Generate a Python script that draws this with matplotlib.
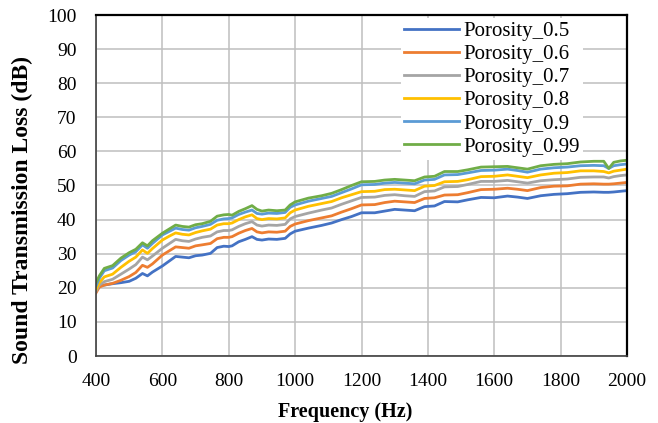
import numpy as np
import matplotlib
matplotlib.use("Agg")
import matplotlib.pyplot as plt


# -----------------------------
# Data
# -----------------------------
FREQ = [
    400, 410, 425, 450, 475, 500, 520, 540, 555, 570,
    600, 620, 640, 660, 680, 700, 720, 745, 765, 785,
    800, 810, 830, 850, 870, 885, 900, 920, 945, 970,
    985, 1000, 1040, 1080, 1110, 1140, 1170, 1200, 1240, 1270,
    1300, 1330, 1360, 1390, 1420, 1450, 1490, 1520, 1560, 1600,
    1640, 1670, 1700, 1740, 1780, 1820, 1860, 1900, 1930, 1945,
    1960, 1980, 2000,
]

STL_05 = [
    19.8, 20.6, 20.8, 21.2, 21.5, 21.9, 22.8, 24.2, 23.5, 24.6,
    26.4, 27.8, 29.2, 29.0, 28.8, 29.4, 29.6, 30.1, 31.8, 32.2,
    32.1, 32.3, 33.5, 34.2, 35.0, 34.2, 34.0, 34.3, 34.2, 34.5,
    35.8, 36.6, 37.5, 38.3, 39.0, 40.0, 40.9, 42.0, 42.0, 42.5,
    43.0, 42.8, 42.6, 43.8, 44.0, 45.3, 45.2, 45.8, 46.5, 46.4,
    46.9, 46.6, 46.2, 47.0, 47.4, 47.6, 48.0, 48.1, 48.0, 48.0,
    48.1, 48.3, 48.5,
]

STL_06 = [
    18.5, 20.2, 20.8, 21.3, 22.2, 23.3, 24.5, 26.6, 26.0, 27.0,
    29.6, 30.8, 32.0, 31.8, 31.6, 32.3, 32.6, 33.0, 34.4, 34.8,
    34.8, 35.0, 36.0, 36.8, 37.4, 36.4, 36.1, 36.4, 36.3, 36.6,
    38.0, 38.7, 39.7, 40.5, 41.1, 42.2, 43.2, 44.3, 44.4, 45.0,
    45.4, 45.2, 45.0, 46.2, 46.4, 47.2, 47.3, 47.9, 48.8, 48.9,
    49.2, 48.9, 48.5, 49.4, 49.8, 49.9, 50.4, 50.5, 50.4, 50.4,
    50.5, 50.7, 50.9,
]

STL_07 = [
    19.0, 20.8, 21.8, 22.5, 24.0, 25.5, 26.8, 29.0, 28.2, 29.3,
    31.6, 32.9, 34.2, 33.8, 33.6, 34.3, 34.8, 35.2, 36.4, 36.8,
    36.8, 37.0, 38.0, 38.8, 39.4, 38.4, 38.1, 38.4, 38.3, 38.6,
    40.2, 40.9, 41.9, 42.8, 43.4, 44.5, 45.5, 46.5, 46.6, 47.1,
    47.3, 47.0, 46.8, 48.2, 48.4, 49.6, 49.7, 50.3, 51.2, 51.2,
    51.5, 51.1, 50.7, 51.4, 51.7, 51.9, 52.4, 52.5, 52.5, 52.2,
    52.6, 52.9, 53.1,
]

STL_08 = [
    19.5, 21.5, 23.2, 24.0, 26.0, 27.8, 29.0, 31.1, 30.1, 31.5,
    34.0, 35.1, 36.1, 35.7, 35.5, 36.2, 36.7, 37.2, 38.4, 38.8,
    38.8, 39.0, 40.0, 40.8, 41.4, 40.3, 40.0, 40.3, 40.2, 40.5,
    42.0, 42.8, 43.9, 44.7, 45.3, 46.4, 47.3, 48.2, 48.3, 48.8,
    48.9, 48.7, 48.5, 49.8, 50.0, 51.1, 51.2, 51.7, 52.6, 52.7,
    53.1, 52.7, 52.3, 53.1, 53.6, 53.8, 54.3, 54.3, 54.1, 53.7,
    54.2, 54.5, 54.8,
]

STL_09 = [
    20.5, 22.8, 25.0, 25.8, 28.0, 29.6, 30.6, 32.6, 31.6, 33.0,
    35.5, 36.5, 37.5, 37.1, 36.9, 37.6, 38.0, 38.6, 39.8, 40.2,
    40.3, 40.5, 41.5, 42.2, 42.8, 41.8, 41.6, 41.9, 41.8, 42.1,
    43.6, 44.3, 45.4, 46.2, 46.8, 47.9, 49.0, 50.2, 50.3, 50.7,
    50.9, 50.7, 50.5, 51.6, 51.8, 53.1, 53.2, 53.7, 54.4, 54.5,
    54.8, 54.4, 53.9, 54.8, 55.2, 55.4, 55.8, 55.9, 55.8, 55.0,
    55.8, 56.1, 56.3,
]

STL_099 = [
    21.5, 23.5, 25.7, 26.5, 28.7, 30.3, 31.3, 33.2, 32.3, 33.8,
    36.0, 37.2, 38.4, 38.0, 37.8, 38.5, 38.8, 39.5, 41.0, 41.4,
    41.5, 41.3, 42.4, 43.2, 44.1, 43.0, 42.5, 42.8, 42.6, 42.8,
    44.3, 45.2, 46.3, 47.0, 47.7, 48.8, 50.0, 51.1, 51.2, 51.6,
    51.8, 51.6, 51.4, 52.5, 52.7, 54.1, 54.1, 54.6, 55.4, 55.5,
    55.6, 55.2, 54.8, 55.8, 56.2, 56.4, 56.9, 57.1, 57.1, 55.0,
    56.8, 57.2, 57.4,
]

LABELS = ["Porosity_0.5", "Porosity_0.6", "Porosity_0.7",
          "Porosity_0.8", "Porosity_0.9", "Porosity_0.99"]
SERIES = [STL_05, STL_06, STL_07, STL_08, STL_09, STL_099]
COLORS = ["#4472C4", "#ED7D31", "#A5A5A5", "#FFC000", "#5B9BD5", "#70AD47"]


# -----------------------------
# Plot
# -----------------------------
plt.rcParams["font.family"] = ["Liberation Serif", "DejaVu Serif"]

fig = plt.figure(figsize=(6.58, 4.23), dpi=100)
ax = fig.add_axes([96 / 658, 1 - 356 / 423, 531 / 658, 341 / 423])

for values, label, color in zip(SERIES, LABELS, COLORS):
    ax.plot(FREQ, values, color=color, linewidth=2.0, label=label,
            solid_joinstyle="round")

ax.set_xlim(400, 2000)
ax.set_ylim(0, 100)
ax.set_xticks(np.arange(400, 2001, 200))
ax.set_yticks(np.arange(0, 101, 10))

ax.grid(True, color="#BFBFBF", linewidth=1.1)
ax.set_axisbelow(True)
ax.tick_params(length=0, labelsize=14)
ax.tick_params(axis="y", pad=14)
ax.tick_params(axis="x", pad=12)

for side in ["left", "bottom"]:
    ax.spines[side].set_color("#404040")
    ax.spines[side].set_linewidth(1.2)
for side in ["top", "right"]:
    ax.spines[side].set_color("black")
    ax.spines[side].set_linewidth(1.6)

ax.set_xlabel("Frequency (Hz)", fontsize=14.5, fontweight="bold")
ax.xaxis.set_label_coords(0.47, -0.135)
ax.set_ylabel("Sound Transmission Loss (dB)", fontsize=17, fontweight="bold")
ax.yaxis.set_label_coords(-0.119, 0.428)

leg = ax.legend(loc="upper left", bbox_to_anchor=(0.575, 0.99),
                fontsize=15, frameon=True, fancybox=False,
                handlelength=2.6, handletextpad=0.25, labelspacing=0.17,
                borderpad=0.15, borderaxespad=0)
leg.get_frame().set_facecolor("white")
leg.get_frame().set_edgecolor("none")
leg.get_frame().set_alpha(1.0)

fig.savefig("out.png", dpi=100)
